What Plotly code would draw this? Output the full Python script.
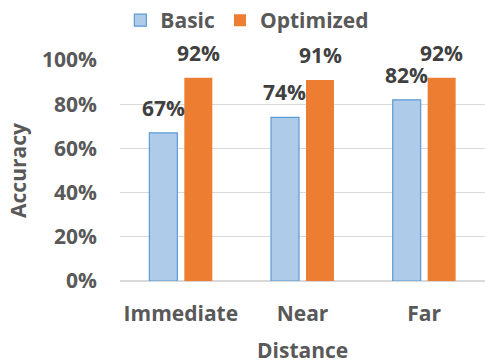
import plotly.graph_objects as go

categories = ["Immediate", "Near", "Far"]
basic = [0.67, 0.74, 0.82]
optimized = [0.92, 0.91, 0.92]
y_ticks = [0, 0.2, 0.4, 0.6, 0.8, 1.0]
y_tick_labels = ["0%", "20%", "40%", "60%", "80%", "100%"]

FONT = "Open Sans"
GRAY = "#595959"
SIZE = 21

fig = go.Figure()
fig.add_trace(go.Bar(
    name="Basic", x=categories, y=basic,
    marker=dict(color="#AECBEA", line=dict(color="#5B9BD5", width=1.2)),
))
fig.add_trace(go.Bar(
    name="Optimized", x=categories, y=optimized,
    marker=dict(color="#ED7D31", line=dict(width=0)),
))

# value labels above each bar
offset = 0.144
for i, (b, o) in enumerate(zip(basic, optimized)):
    for xv, yv in ((i - offset, b), (i + offset, o)):
        fig.add_annotation(
            x=xv, y=yv, xref="x", yref="y", text=f"{round(yv * 100)}%",
            showarrow=False, yanchor="bottom", yshift=9,
            font=dict(family=FONT, size=SIZE, color="#404040", weight="bold"),
        )

# x-axis title placed below the category labels
fig.add_annotation(
    x=0.5, y=-0.312, xref="paper", yref="paper", text="Distance",
    showarrow=False, xanchor="center", yanchor="middle",
    font=dict(family=FONT, size=SIZE, color=GRAY, weight="bold"),
)

fig.update_layout(
    width=485, height=363,
    margin=dict(l=120, r=0, t=60, b=82),
    paper_bgcolor="white", plot_bgcolor="white",
    barmode="group", bargap=0.425, bargroupgap=0.2,
    font=dict(family=FONT, color=GRAY, weight="bold"),
    legend=dict(
        orientation="h", x=0.51, xref="container", xanchor="center",
        y=1.0, yref="container", yanchor="top",
        font=dict(family=FONT, size=SIZE, color=GRAY, weight="bold"),
        itemwidth=30,
    ),
    xaxis=dict(
        tickfont=dict(family=FONT, size=SIZE, color=GRAY, weight="bold"),
        showline=False, ticks="", ticklabelstandoff=18,
    ),
    yaxis=dict(
        range=[0, 1.0], tickvals=y_ticks, ticktext=y_tick_labels,
        tickfont=dict(family=FONT, size=SIZE, color=GRAY, weight="bold"),
        gridcolor="#D9D9D9", gridwidth=1, zeroline=True,
        zerolinecolor="#D9D9D9", zerolinewidth=1.5,
        title=dict(text="Accuracy", standoff=9,
                   font=dict(family=FONT, size=SIZE, color=GRAY, weight="bold")),
        ticks="", ticklabelstandoff=22,
    ),
)

fig.write_html("out.html")
